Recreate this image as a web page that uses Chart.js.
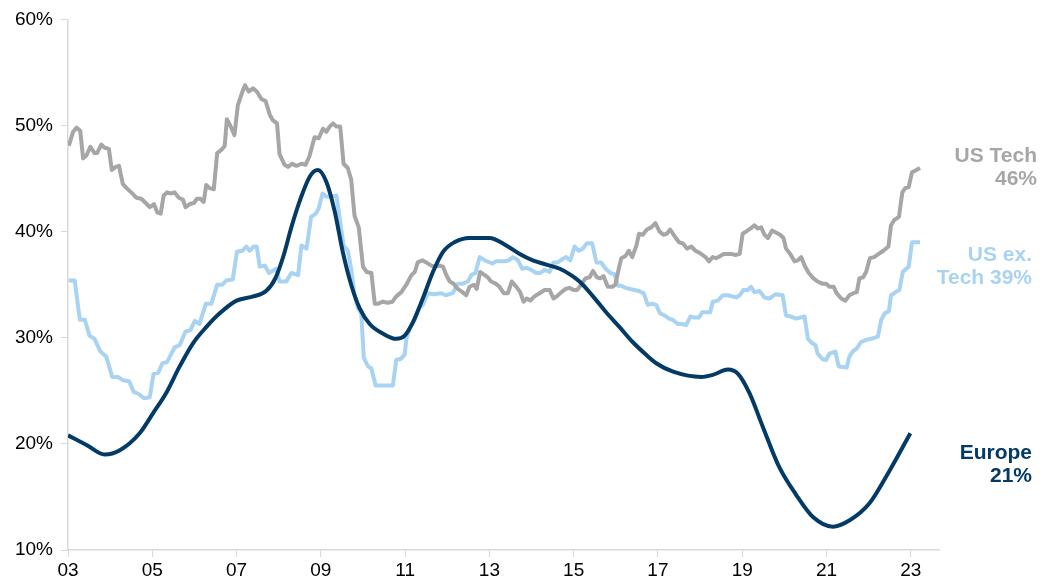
<!DOCTYPE html>
<html>
<head>
<meta charset="utf-8">
<title>Profit share</title>
<script src="https://cdn.jsdelivr.net/npm/chart.js@4.4.1/dist/chart.umd.min.js"></script>
<style>
  html, body { margin: 0; padding: 0; background: #fff; }
  #wrap { width: 1052px; height: 586px; position: relative; }
</style>
</head>
<body>
<div id="wrap"><canvas id="shareChart"></canvas></div>
<script>
// x tick years (shown as two digits)
const tickYears = [2003, 2005, 2007, 2009, 2011, 2013, 2015, 2017, 2019, 2021, 2023];
const yTicks = [10, 20, 30, 40, 50, 60];

// US Tech, monthly-ish readings (decimal year, %)
const usTechDates = [
  2003.02, 2003.12, 2003.20, 2003.29, 2003.36, 2003.44, 2003.53, 2003.63, 2003.69, 2003.79, 2003.87, 2003.97,
  2004.04, 2004.13, 2004.21, 2004.30, 2004.39, 2004.50, 2004.62, 2004.74, 2004.87, 2004.94,
  2005.04, 2005.12, 2005.20, 2005.27, 2005.35, 2005.45, 2005.53, 2005.63, 2005.73, 2005.79, 2005.89, 2005.99,
  2006.06, 2006.14, 2006.22, 2006.28, 2006.36, 2006.46, 2006.54, 2006.64, 2006.72, 2006.77, 2006.85, 2006.95,
  2007.03, 2007.14, 2007.20, 2007.29, 2007.39, 2007.48, 2007.59, 2007.69, 2007.79, 2007.86, 2007.96,
  2008.02, 2008.14, 2008.22, 2008.32, 2008.42, 2008.54, 2008.64, 2008.73, 2008.85, 2008.95,
  2009.05, 2009.13, 2009.21, 2009.29, 2009.37, 2009.46, 2009.54, 2009.64, 2009.72, 2009.80, 2009.90,
  2010.00, 2010.09, 2010.20, 2010.28, 2010.35, 2010.47, 2010.59, 2010.70, 2010.79, 2010.91,
  2011.03, 2011.15, 2011.23, 2011.30, 2011.41, 2011.50, 2011.62, 2011.72, 2011.82, 2011.90, 2011.98,
  2012.06, 2012.15, 2012.25, 2012.36, 2012.45, 2012.53, 2012.63, 2012.70, 2012.78, 2012.89, 2012.96,
  2013.04, 2013.15, 2013.24, 2013.34, 2013.44, 2013.53, 2013.64, 2013.73, 2013.81, 2013.89, 2013.97,
  2014.07, 2014.19, 2014.31, 2014.43, 2014.52, 2014.60, 2014.71, 2014.81, 2014.90,
  2015.00, 2015.08, 2015.18, 2015.28, 2015.38, 2015.46, 2015.55, 2015.63, 2015.71, 2015.81, 2015.92, 2015.99,
  2016.07, 2016.13, 2016.23, 2016.31, 2016.39, 2016.49, 2016.55, 2016.64, 2016.74, 2016.84, 2016.94,
  2017.04, 2017.13, 2017.21, 2017.29, 2017.39, 2017.50, 2017.59, 2017.69, 2017.79, 2017.89, 2017.99,
  2018.13, 2018.21, 2018.30, 2018.38, 2018.48, 2018.56, 2018.74, 2018.84, 2018.94,
  2019.01, 2019.09, 2019.20, 2019.29, 2019.37, 2019.45, 2019.53, 2019.61, 2019.71, 2019.81, 2019.90, 2019.98,
  2020.04, 2020.14, 2020.24, 2020.32, 2020.40, 2020.48, 2020.58, 2020.69, 2020.79, 2020.90, 2020.99,
  2021.07, 2021.17, 2021.24, 2021.35, 2021.45, 2021.54, 2021.64, 2021.72, 2021.78, 2021.87, 2021.94,
  2022.03, 2022.13, 2022.24, 2022.35, 2022.47, 2022.53, 2022.61, 2022.72, 2022.80, 2022.87, 2022.95,
  2023.03, 2023.13, 2023.22
];
const usTechShare = [
  48.1, 49.4, 49.8, 49.5, 46.9, 47.2, 48.0, 47.4, 47.4, 48.2, 47.9, 47.8,
  45.8, 46.1, 46.2, 44.5, 44.1, 43.7, 43.2, 43.1, 42.6, 42.3,
  42.6, 41.8, 41.7, 43.4, 43.7, 43.6, 43.7, 43.2, 43.0, 42.3, 42.6, 42.7,
  43.1, 43.1, 42.8, 44.4, 44.1, 44.0, 47.4, 47.7, 48.1, 50.6, 50.0, 49.1,
  51.9, 53.2, 53.8, 53.2, 53.5, 53.2, 52.5, 52.3, 51.0, 50.5, 50.2,
  47.3, 46.3, 46.1, 46.4, 46.2, 46.4, 46.3, 47.1, 48.9, 48.8,
  49.7, 49.4, 49.9, 50.2, 49.9, 49.9, 46.4, 46.0, 44.9, 41.5, 40.4,
  36.7, 36.2, 36.1, 33.2, 33.2, 33.4, 33.3, 33.4, 33.9, 34.3,
  35.0, 35.9, 36.2, 37.1, 37.3, 37.1, 36.8, 36.7, 36.8, 36.7, 35.9,
  35.3, 35.1, 34.6, 34.3, 34.0, 34.8, 35.0, 34.6, 36.2, 35.9, 35.7,
  35.3, 35.1, 34.8, 34.2, 34.2, 35.3, 34.8, 34.3, 33.4, 33.7, 33.5,
  33.9, 34.2, 34.5, 34.5, 33.7, 33.9, 34.3, 34.6, 34.7,
  34.5, 34.5, 35.0, 35.6, 35.7, 36.3, 35.7, 35.6, 35.8, 34.8, 34.8, 35.0,
  36.5, 37.5, 37.7, 38.2, 37.6, 38.7, 39.8, 39.7, 40.2, 40.4, 40.8,
  40.0, 39.7, 39.8, 40.2, 39.6, 39.0, 38.9, 38.4, 38.6, 38.2, 38.0,
  37.6, 37.2, 37.6, 37.5, 37.7, 37.9, 37.9, 37.8, 37.9,
  39.8, 40.0, 40.3, 40.6, 40.3, 40.4, 39.7, 39.4, 40.1, 39.9, 39.7, 39.4,
  38.4, 37.9, 37.2, 37.3, 37.6, 36.8, 36.1, 35.6, 35.3, 35.1, 35.1,
  34.8, 34.8, 34.2, 33.7, 33.5, 34.0, 34.2, 34.3, 35.6, 35.7, 36.2,
  37.5, 37.6, 37.9, 38.2, 38.6, 40.6, 41.1, 41.4, 43.7, 44.1, 44.2,
  45.6, 45.8, 46.0
];

// US ex. Tech
const usExTechDates = [
  2003.02, 2003.16, 2003.28, 2003.40, 2003.51, 2003.63, 2003.77, 2003.91,
  2004.05, 2004.19, 2004.30, 2004.45, 2004.56, 2004.68, 2004.80, 2004.94,
  2005.03, 2005.14, 2005.24, 2005.35, 2005.53, 2005.65, 2005.79, 2005.90,
  2006.01, 2006.12, 2006.27, 2006.40, 2006.54, 2006.66, 2006.76, 2006.91,
  2007.01, 2007.14, 2007.23, 2007.31, 2007.41, 2007.48, 2007.55, 2007.67, 2007.77, 2007.94,
  2008.02, 2008.18, 2008.30, 2008.46, 2008.54, 2008.66, 2008.77, 2008.88, 2008.95,
  2009.04, 2009.13, 2009.25, 2009.37, 2009.45, 2009.54, 2009.64, 2009.72, 2009.80, 2009.88, 2009.96,
  2010.02, 2010.12, 2010.20, 2010.30, 2010.71, 2010.79, 2010.89, 2010.99,
  2011.03, 2011.11, 2011.23, 2011.33, 2011.42, 2011.54, 2011.68, 2011.86, 2011.96,
  2012.13, 2012.25, 2012.37, 2012.49, 2012.57, 2012.67, 2012.77, 2012.89,
  2013.07, 2013.16, 2013.36, 2013.46, 2013.56, 2013.68, 2013.78, 2013.88, 2013.99,
  2014.11, 2014.21, 2014.31, 2014.43, 2014.52, 2014.62, 2014.73, 2014.82, 2014.92,
  2015.02, 2015.12, 2015.22, 2015.31, 2015.44, 2015.54, 2015.65, 2015.76, 2015.87, 2015.97,
  2016.05, 2016.13, 2016.23, 2016.34, 2016.44, 2016.55, 2016.66, 2016.76, 2016.86, 2016.96,
  2017.05, 2017.16, 2017.26, 2017.35, 2017.47, 2017.58, 2017.67, 2017.77, 2017.87, 2017.97,
  2018.05, 2018.24, 2018.30, 2018.42, 2018.54, 2018.66, 2018.86, 2018.94,
  2019.03, 2019.13, 2019.21, 2019.29, 2019.41, 2019.53, 2019.65, 2019.79, 2019.96,
  2020.04, 2020.16, 2020.28, 2020.48, 2020.56, 2020.66, 2020.74, 2020.79, 2020.90, 2020.99,
  2021.07, 2021.21, 2021.29, 2021.48, 2021.54, 2021.62, 2021.72, 2021.82, 2021.94,
  2022.06, 2022.22, 2022.30, 2022.38, 2022.48, 2022.53, 2022.64, 2022.73, 2022.81, 2022.89, 2022.95,
  2023.03, 2023.13, 2023.22
];
const usExTechShare = [
  35.4, 35.4, 31.7, 31.7, 30.2, 29.9, 28.7, 28.2,
  26.3, 26.3, 26.0, 25.9, 24.9, 24.7, 24.3, 24.4,
  26.6, 26.7, 27.6, 27.7, 29.1, 29.3, 30.6, 30.7,
  31.6, 31.3, 33.2, 33.2, 35.0, 35.0, 35.4, 35.5,
  38.1, 38.2, 38.6, 38.2, 38.6, 38.6, 36.7, 36.8, 36.1, 36.5,
  35.3, 35.3, 36.1, 35.9, 38.7, 38.4, 41.4, 41.7, 42.2,
  43.6, 43.3, 43.3, 43.4, 41.2, 38.7, 38.2, 36.5, 34.0, 32.8, 32.3,
  28.1, 27.3, 27.1, 25.5, 25.5, 27.9, 28.0, 28.4,
  29.9, 30.9, 31.7, 32.8, 33.1, 34.2, 34.1, 34.2, 34.0,
  34.2, 35.1, 35.1, 35.3, 35.9, 36.1, 37.6, 37.3,
  37.0, 37.2, 37.2, 37.3, 37.6, 37.3, 36.5, 36.6, 36.4,
  36.1, 36.1, 36.4, 36.2, 37.1, 37.1, 37.4, 37.6, 37.3,
  38.6, 38.2, 38.4, 38.9, 38.9, 37.1, 37.1, 36.5, 36.1, 36.0,
  34.9, 34.9, 34.7, 34.6, 34.5, 34.4, 34.2, 33.1, 33.2, 33.1,
  32.3, 32.1, 31.8, 31.7, 31.3, 31.3, 31.2, 32.0, 31.9, 31.9,
  32.4, 32.4, 33.4, 33.5, 34.0, 34.0, 33.8, 34.0,
  34.5, 34.5, 34.8, 34.3, 34.4, 33.8, 33.7, 34.1, 34.0,
  32.1, 32.0, 31.8, 32.0, 29.9, 29.5, 29.3, 28.5, 28.0, 27.9,
  28.5, 28.7, 27.3, 27.2, 28.2, 28.7, 29.0, 29.6, 29.8,
  29.9, 30.1, 31.7, 32.3, 32.5, 34.0, 34.3, 34.5, 36.2, 36.5, 36.7,
  39.0, 39.0, 39.0
];

// Europe (smoothed series)
const europeDates = [
  2003.00, 2003.44, 2003.87, 2004.23, 2004.70, 2005.02, 2005.33, 2005.65, 2005.97,
  2006.28, 2006.60, 2007.00, 2007.40, 2007.70, 2007.92, 2008.12, 2008.30, 2008.50, 2008.74, 2008.93,
  2009.13, 2009.33, 2009.52, 2009.72, 2009.92, 2010.16, 2010.47, 2010.79, 2010.99,
  2011.19, 2011.42, 2011.66, 2011.90, 2012.17, 2012.53, 2013.00, 2013.40, 2013.72,
  2014.03, 2014.35, 2014.67, 2014.90, 2015.14, 2015.46, 2015.77, 2016.09, 2016.40,
  2016.72, 2016.96, 2017.36, 2018.03, 2018.30, 2018.66, 2018.90, 2019.17, 2019.49,
  2019.88, 2020.28, 2020.68, 2021.15, 2021.55, 2022.02, 2022.50, 2022.99
];
const europeShare = [
  20.8, 19.9, 19.0, 19.4, 21.0, 22.9, 24.8, 27.3, 29.5,
  31.0, 32.3, 33.5, 33.9, 34.4, 35.6, 37.8, 40.4, 42.9, 45.2, 45.8,
  44.7, 41.9, 38.1, 35.0, 32.8, 31.3, 30.4, 29.9, 30.2,
  31.5, 33.7, 36.2, 38.1, 39.0, 39.4, 39.4, 38.7, 37.9,
  37.3, 36.9, 36.5, 36.0, 35.3, 33.9, 32.4, 31.0, 29.6,
  28.4, 27.6, 26.8, 26.3, 26.5, 27.0, 26.6, 24.8, 21.6,
  17.8, 15.2, 13.1, 12.2, 12.8, 14.4, 17.5, 21.0
];

const GREY = '#a6a6a6';
const LIGHT_BLUE = '#a8d3f2';
const NAVY = '#033a66';
const AXIS = '#d9d9d9';
const FONT = '"Liberation Sans", Arial, sans-serif';

function points(dates, vals) {
  return dates.map((d, i) => ({ x: d, y: vals[i] }));
}

// end-of-line labels, value taken from the last point of each series
const endLabels = [
  { name: 'US Tech', vals: usTechShare, color: GREY, split: false, right: 98, baseline: 162 },
  { name: 'US ex.', vals: usExTechShare, color: LIGHT_BLUE, split: true, right: 93, baseline: 261 },
  { name: 'Europe', vals: europeShare, color: NAVY, split: false, right: 93, baseline: 459 }
];

const endLabelPlugin = {
  id: 'endLabels',
  afterDraw(chart) {
    const ctx = chart.ctx;
    ctx.save();
    ctx.font = 'bold 21px ' + FONT;
    ctx.textAlign = 'right';
    ctx.textBaseline = 'alphabetic';
    endLabels.forEach(l => {
      const pct = Math.round(l.vals[l.vals.length - 1]) + '%';
      const lines = l.split ? [l.name, 'Tech ' + pct] : [l.name, pct];
      ctx.fillStyle = l.color;
      lines.forEach((t, i) => ctx.fillText(t, chart.chartArea.right + l.right, l.baseline + i * 23));
    });
    ctx.restore();
  }
};

const ctx = document.getElementById('shareChart').getContext('2d');
new Chart(ctx, {
  type: 'line',
  data: {
    datasets: [
      {
        label: 'Europe',
        data: points(europeDates, europeShare),
        borderColor: NAVY,
        borderWidth: 4,
        cubicInterpolationMode: 'monotone',
        pointRadius: 0
      },
      {
        label: 'US Tech',
        data: points(usTechDates, usTechShare),
        borderColor: GREY,
        borderWidth: 4,
        tension: 0,
        borderJoinStyle: 'round',
        pointRadius: 0
      },
      {
        label: 'US ex. Tech',
        data: points(usExTechDates, usExTechShare),
        borderColor: LIGHT_BLUE,
        borderWidth: 4,
        tension: 0,
        borderJoinStyle: 'round',
        pointRadius: 0
      }
    ]
  },
  options: {
    responsive: true,
    maintainAspectRatio: false,
    animation: false,
    layout: { padding: { top: 19, right: 113, bottom: 0, left: 0 } },
    plugins: {
      legend: { display: false },
      tooltip: { enabled: false }
    },
    scales: {
      x: {
        type: 'linear',
        min: 2003,
        max: 2023.67,
        afterBuildTicks: scale => { scale.ticks = tickYears.map(v => ({ value: v })); },
        afterFit: scale => { scale.height = 36; },
        grid: { drawOnChartArea: false, color: AXIS, tickLength: 7 },
        border: { color: AXIS, width: 1.5 },
        ticks: {
          color: '#000',
          font: { family: FONT, size: 19 },
          padding: 2,
          maxRotation: 0,
          callback: v => String(v).slice(2)
        }
      },
      y: {
        min: 10,
        max: 60,
        afterBuildTicks: scale => { scale.ticks = yTicks.map(v => ({ value: v })); },
        afterFit: scale => { scale.width = 68; },
        grid: { drawOnChartArea: false, color: AXIS, tickLength: 7 },
        border: { color: AXIS, width: 1.5 },
        ticks: {
          color: '#000',
          font: { family: FONT, size: 19 },
          padding: 8,
          callback: v => v + '%'
        }
      }
    }
  },
  plugins: [endLabelPlugin]
});
</script>
</body>
</html>
